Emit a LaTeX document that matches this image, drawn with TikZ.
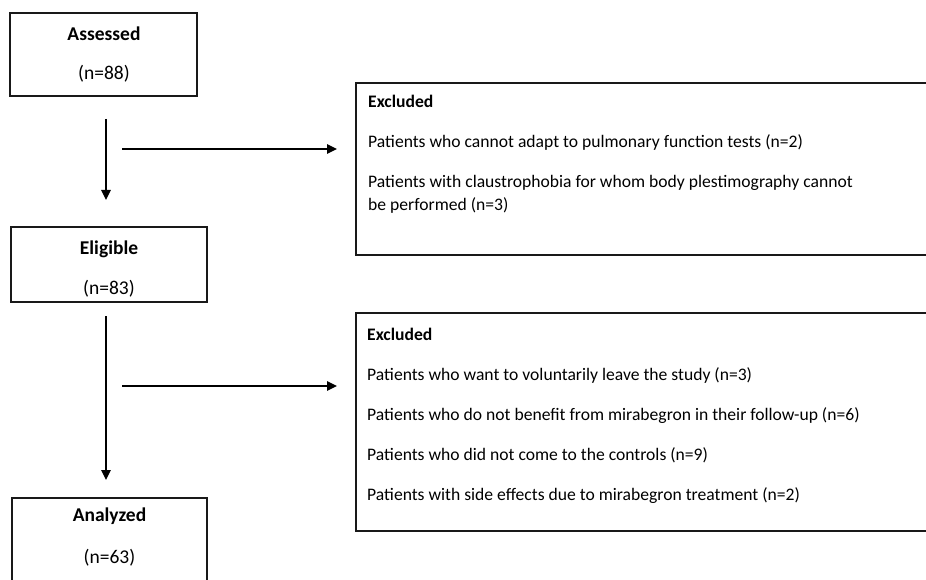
\documentclass[tikz,border=0pt]{standalone}
\usepackage{fontspec}
\setmainfont{Carlito}
\usetikzlibrary{arrows.meta}
\begin{document}
\begin{tikzpicture}[x=1pt,y=-1pt,
  box/.style={draw=black!90, line width=1.8pt, inner sep=0pt, outer sep=0pt},
  flow/.style={draw=black, line width=1.4pt, -{Triangle[length=10pt,width=9.5pt]}},
  stage/.style={font=\fontsize{19.5}{23}\selectfont\bfseries, anchor=base, inner sep=0pt},
  count/.style={font=\fontsize{19.5}{23}\selectfont, anchor=base, inner sep=0pt},
  exhead/.style={font=\fontsize{17.6}{21}\selectfont\bfseries, anchor=base west, inner sep=0pt},
  exline/.style={font=\fontsize{17.6}{21}\selectfont, anchor=base west, inner sep=0pt}
]
\useasboundingbox (0,0) rectangle (926,580);
\clip (0,0) rectangle (926,580);

% stage boxes on the left
\node[box, anchor=north west, minimum width=187pt, minimum height=83pt] (assessed) at (10,13) {};
\node[box, anchor=north west, minimum width=196pt, minimum height=75pt] (eligible) at (11,227) {};
\node[box, anchor=north west, minimum width=195pt, minimum height=140pt] (analyzed) at (12,498) {};

\node[stage] (assessedT) at (104,41) {Assessed};
\node[count] (assessedN) at (104,80) {(n=88)};
\node[stage] (eligibleT) at (109,254) {Eligible};
\node[count] (eligibleN) at (109,294) {(n=83)};
\node[stage] (analyzedT) at (109.5,521) {Analyzed};
\node[count] (analyzedN) at (109.5,563) {(n=63)};

% exclusion boxes on the right (open towards the right edge)
\node[box, anchor=north west, minimum width=700pt, minimum height=172pt] (excl1) at (356,83) {};
\node[box, anchor=north west, minimum width=700pt, minimum height=218pt] (excl2) at (356,313) {};

\node[exhead] (excl1h) at (368,108) {Excluded};
\node[exline] (excl1a) at (368,148) {Patients who cannot adapt to pulmonary function tests (n=2)};
\node[exline] (excl1b) at (368,188) {Patients with claustrophobia for whom body plestimography cannot};
\node[exline] (excl1c) at (368,211) {be performed (n=3)};

\node[exhead] (excl2h) at (367,340) {Excluded};
\node[exline] (excl2a) at (367,380) {Patients who want to voluntarily leave the study (n=3)};
\node[exline] (excl2b) at (367,420) {Patients who do not benefit from mirabegron in their follow-up (n=6)};
\node[exline] (excl2c) at (367,460) {Patients who did not come to the controls (n=9)};
\node[exline] (excl2d) at (367,500) {Patients with side effects due to mirabegron treatment (n=2)};

% arrow end points
\coordinate (down1s) at (106,119);
\coordinate (down1e) at (106,200);
\coordinate (down2s) at (106,316);
\coordinate (down2e) at (106,480);
\coordinate (side1s) at (122,149);
\coordinate (side2s) at (122,386);

\draw[flow] (down1s) -- (down1e);
\draw[flow] (down2s) -- (down2e);
\draw[flow, shorten >=19pt] (side1s) -- (side1s -| excl1.west);
\draw[flow, shorten >=19pt] (side2s) -- (side2s -| excl2.west);
\end{tikzpicture}
\end{document}
